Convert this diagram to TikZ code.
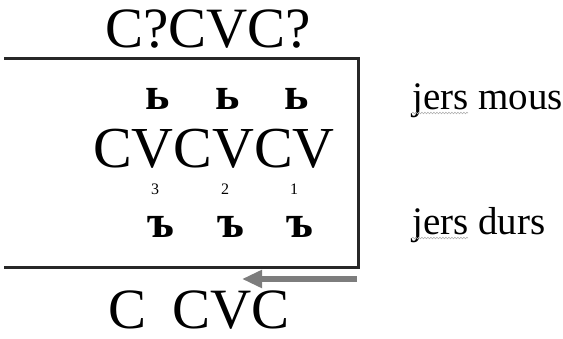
\documentclass[tikz,border=0pt]{standalone}
\usepackage{fontspec}
\setmainfont{Liberation Serif}
\usetikzlibrary{positioning,arrows.meta,decorations.pathmorphing}
\definecolor{framegray}{RGB}{40,40,40}
\definecolor{arrowgray}{RGB}{125,125,125}

\begin{document}
\begin{tikzpicture}[x=1pt,y=1pt,
  syl/.style={anchor=base,inner sep=0pt,text depth=0pt,font=\fontsize{57}{60}\selectfont},
  jer/.style={anchor=base,inner sep=0pt,font=\fontsize{46}{48}\selectfont\bfseries},
  idx/.style={anchor=base,inner sep=0pt,font=\fontsize{16}{17}\selectfont},
  gloss/.style={anchor=base west,inner sep=0pt,font=\fontsize{39}{40}\selectfont},
  spell/.style={draw=gray!60,line width=0.6pt,decorate,decoration={snake,amplitude=0.8pt,segment length=3pt}}]
  \useasboundingbox (0,0) rectangle (563,-339);
  % syllable strings
  \node[syl] (input) at (208,-48) {C?CVC?};
  \node[syl,font=\fontsize{58}{60}\selectfont] (skel) at (214,-168) {CVCVCV};
  \node[syl] (output) at (199,-329) {C\hspace{0.45em}CVC};
  % soft jers, hard jers and position numbers
  \foreach \x/\n in {158/3,228/2,297/1}{
    \node[jer] (soft\n) at (\x,-110) {ь};
    \node[idx] (pos\n) at (\x-3,-195) {\n};
    \node[jer] (hard\n) at (\x+3,-238) {ъ};
  }
  % glosses
  \node[gloss] (mous) at (412,-110) {jers mous};
  \node[gloss] (durs) at (412,-235) {jers durs};
  \draw[spell] (mous.base west) ++(0,-3) -- ++(56,0);
  \draw[spell] (durs.base west) ++(0,-3) -- ++(56,0);
  % frame open on the left
  \coordinate (tl) at (4,-59);
  \coordinate (tr) at (358,-59);
  \coordinate (br) at (358,-268);
  \coordinate (bl) at (4,-268);
  \draw[framegray,line width=3pt] (tl) -- (tr) -- (br) -- (bl);
  % derivation arrow
  \coordinate (astart) at (357,-279);
  \coordinate (aend) at (242,-279);
  \draw[arrowgray,line width=6.5pt,-{Triangle[length=20pt,width=17pt]}] (astart) -- (aend);
\end{tikzpicture}
\end{document}
